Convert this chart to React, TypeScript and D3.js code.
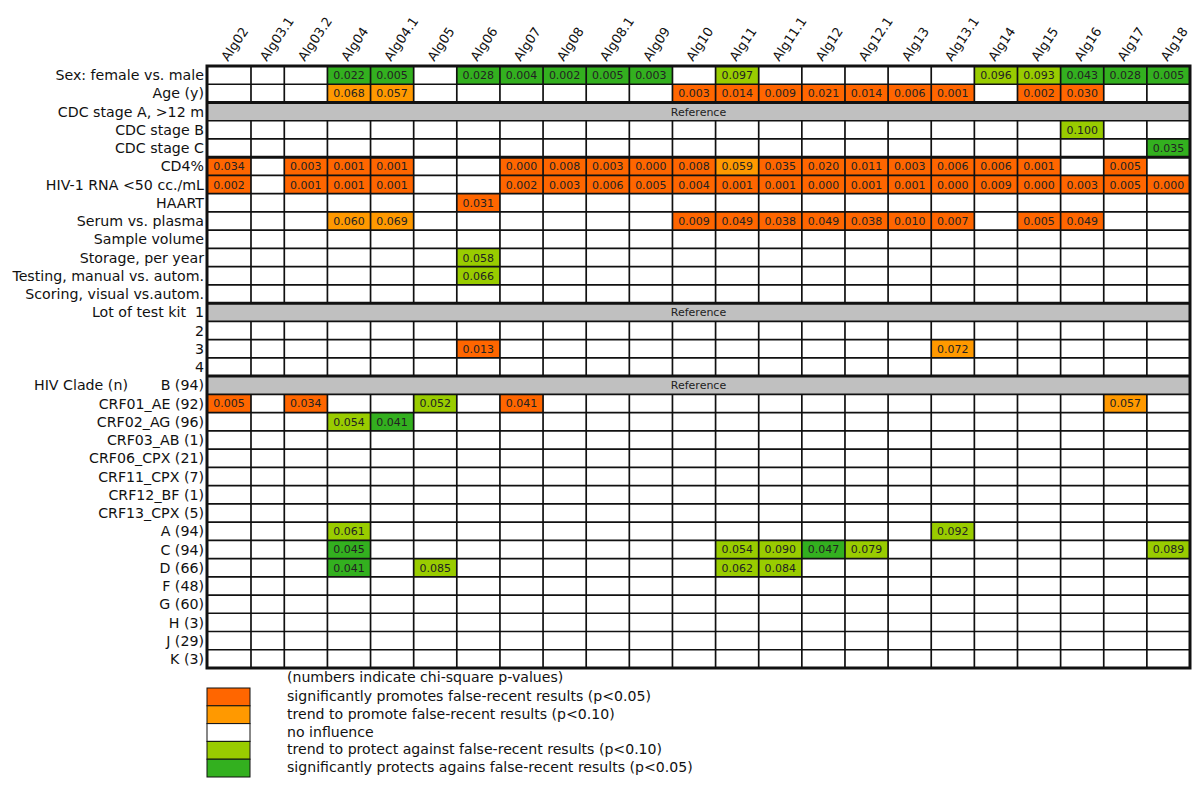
import React from "react";
import * as d3 from "d3";

// ---- data ----
const algorithms = ["Alg02","Alg03.1","Alg03.2","Alg04","Alg04.1","Alg05","Alg06","Alg07","Alg08","Alg08.1","Alg09","Alg10","Alg11","Alg11.1","Alg12","Alg12.1","Alg13","Alg13.1","Alg14","Alg15","Alg16","Alg17","Alg18"];

const rowLabels = ["Sex: female vs. male","Age (y)","CDC stage A, >12 m","CDC stage B","CDC stage C","CD4%","HIV-1 RNA <50 cc./mL","HAART","Serum vs. plasma","Sample volume","Storage, per year","Testing, manual vs. autom.","Scoring, visual vs.autom.","1","2","3","4","B (94)","CRF01_AE (92)","CRF02_AG (96)","CRF03_AB (1)","CRF06_CPX (21)","CRF11_CPX (7)","CRF12_BF (1)","CRF13_CPX (5)","A (94)","C (94)","D (66)","F (48)","G (60)","H (3)","J (29)","K (3)"];

const referenceRows = ["CDC stage A, >12 m","1","B (94)"];
const groupHeaders = [{ row: "1", text: "Lot of test kit" }, { row: "B (94)", text: "HIV Clade (n)" }];
const thickAbove = ["CDC stage A, >12 m","CD4%","1","B (94)"];

// p-values; negative sign = protects against false-recent, positive = promotes
const _ = null;
const none = [_,_,_,_,_,_,_,_,_,_,_,_,_,_,_,_,_,_,_,_,_,_,_];
const sex    = [_,_,_,-0.022,-0.005,_,-0.028,-0.004,-0.002,-0.005,-0.003,_,-0.097,_,_,_,_,_,-0.096,-0.093,-0.043,-0.028,-0.005];
const age    = [_,_,_,0.068,0.057,_,_,_,_,_,_,0.003,0.014,0.009,0.021,0.014,0.006,0.001,_,0.002,0.030,_,_];
const cdcB   = [_,_,_,_,_,_,_,_,_,_,_,_,_,_,_,_,_,_,_,_,-0.100,_,_];
const cdcC   = [_,_,_,_,_,_,_,_,_,_,_,_,_,_,_,_,_,_,_,_,_,_,-0.035];
const cd4    = [0.034,_,0.003,0.001,0.001,_,_,0.000,0.008,0.003,0.000,0.008,0.059,0.035,0.020,0.011,0.003,0.006,0.006,0.001,_,0.005,_];
const rna    = [0.002,_,0.001,0.001,0.001,_,_,0.002,0.003,0.006,0.005,0.004,0.001,0.001,0.000,0.001,0.001,0.000,0.009,0.000,0.003,0.005,0.000];
const haart  = [_,_,_,_,_,_,0.031,_,_,_,_,_,_,_,_,_,_,_,_,_,_,_,_];
const serum  = [_,_,_,0.060,0.069,_,_,_,_,_,_,0.009,0.049,0.038,0.049,0.038,0.010,0.007,_,0.005,0.049,_,_];
const storage= [_,_,_,_,_,_,-0.058,_,_,_,_,_,_,_,_,_,_,_,_,_,_,_,_];
const testing= [_,_,_,_,_,_,-0.066,_,_,_,_,_,_,_,_,_,_,_,_,_,_,_,_];
const lot3   = [_,_,_,_,_,_,0.013,_,_,_,_,_,_,_,_,_,_,0.072,_,_,_,_,_];
const crf01  = [0.005,_,0.034,_,_,-0.052,_,0.041,_,_,_,_,_,_,_,_,_,_,_,_,_,0.057,_];
const crf02  = [_,_,_,-0.054,-0.041,_,_,_,_,_,_,_,_,_,_,_,_,_,_,_,_,_,_];
const cladeA = [_,_,_,-0.061,_,_,_,_,_,_,_,_,_,_,_,_,_,-0.092,_,_,_,_,_];
const cladeC = [_,_,_,-0.045,_,_,_,_,_,_,_,_,-0.054,-0.090,-0.047,-0.079,_,_,_,_,_,_,-0.089];
const cladeD = [_,_,_,-0.041,_,-0.085,_,_,_,_,_,_,-0.062,-0.084,_,_,_,_,_,_,_,_,_];

const rowValues = [sex, age, none, cdcB, cdcC, cd4, rna, haart, serum, none, storage, testing, none,
  none, none, lot3, none, none, crf01, crf02, none, none, none, none, none, cladeA, cladeC, cladeD,
  none, none, none, none, none];

const legendItems = [
  { key: "sigPromote", label: "significantly promotes false-recent results (p<0.05)" },
  { key: "trendPromote", label: "trend to promote false-recent results (p<0.10)" },
  { key: "none", label: "no influence" },
  { key: "trendProtect", label: "trend to protect against false-recent results (p<0.10)" },
  { key: "sigProtect", label: "significantly protects agains false-recent results (p<0.05)" },
];
const legendNote = "(numbers indicate chi-square p-values)";

// ---- styles ----
const colors: Record<string, string> = {
  sigPromote: "#ff6600",
  trendPromote: "#ff9900",
  none: "#ffffff",
  trendProtect: "#99cc00",
  sigProtect: "#33b01f",
};
const FONT = "'DejaVu Sans', Verdana, sans-serif";

function category(v: number | null): string {
  if (v === null || v === undefined) return "none";
  if (v < 0) return Math.abs(v) < 0.05 ? "sigProtect" : "trendProtect";
  return v < 0.05 ? "sigPromote" : "trendPromote";
}

export default function App() {
  const W = 1200, H = 787;
  const left = 207, right = 1190, top = 66, bottom = 668;

  // column widths: first two columns differ in the original
  const weights = algorithms.map((_, i) => (i === 0 ? 1.02 : i === 1 ? 0.772 : 1));
  const cum = [0, ...Array.from(d3.cumsum(weights))];
  const xs = d3.scaleLinear().domain([0, cum[cum.length - 1]]).range([left, right]);
  const colX = (i: number) => xs(cum[i]);
  const colW = (i: number) => xs(cum[i + 1]) - xs(cum[i]);

  const y = d3.scaleBand<string>().domain(rowLabels).range([top, bottom]).padding(0);
  const rh = y.bandwidth();

  const cells: any[] = [];
  rowLabels.forEach((r, ri) => {
    if (referenceRows.includes(r)) return;
    rowValues[ri].forEach((v, ci) => {
      if (v === null) return;
      cells.push({ r, ci, v, cat: category(v) });
    });
  });

  const legendY = d3.scaleBand<string>().domain(legendItems.map(d => d.key)).range([688, 777]);

  return (
    <svg width={W} height={H} style={{ position: "absolute", left: 0, top: 0, background: "#fff" }} fontFamily={FONT}>
      <rect width={W} height={H} fill="#fff" />
      {/* column headers */}
      {algorithms.map((a, i) => (
        <text key={a} transform={`translate(${colX(i) + colW(i) / 2 - 1},62) rotate(-56)`} fontSize={13} fill="#111">{a}</text>
      ))}
      {/* row labels */}
      {rowLabels.map(r => (
        <text key={r} x={204} y={(y(r) as number) + rh / 2} dy="0.36em" textAnchor="end" fontSize={14.2} fill="#111">{r}</text>
      ))}
      {groupHeaders.map(g => (
        <text key={g.text} x={g.row === "1" ? 186 : 34} y={(y(g.row) as number) + rh / 2} dy="0.36em"
          textAnchor={g.row === "1" ? "end" : "start"} fontSize={14.2} fill="#111">{g.text}</text>
      ))}
      {/* reference rows */}
      {referenceRows.map(r => (
        <g key={r}>
          <rect x={left} y={y(r)} width={right - left} height={rh} fill="#c0c0c0" />
          <text x={(left + right) / 2} y={(y(r) as number) + rh / 2} dy="0.36em" textAnchor="middle" fontSize={11} fill="#222">Reference</text>
        </g>
      ))}
      {/* coloured cells */}
      {cells.map(c => (
        <rect key={c.r + c.ci} x={colX(c.ci)} y={y(c.r)} width={colW(c.ci)} height={rh} fill={colors[c.cat]} />
      ))}
      {/* grid: horizontal */}
      {rowLabels.slice(1).map(r => (
        <line key={"h" + r} x1={left} x2={right} y1={y(r)} y2={y(r)} stroke="#111"
          strokeWidth={thickAbove.includes(r) ? 3 : 1.7} />
      ))}
      {/* grid: vertical, skipping reference rows */}
      {algorithms.slice(1).map((a, i) => rowLabels.filter(r => !referenceRows.includes(r)).map(r => (
        <line key={"v" + a + r} x1={colX(i + 1)} x2={colX(i + 1)} y1={y(r)} y2={(y(r) as number) + rh} stroke="#111" strokeWidth={1.7} />
      )))}
      {/* values */}
      {cells.map(c => (
        <text key={"t" + c.r + c.ci} x={colX(c.ci) + colW(c.ci) / 2} y={(y(c.r) as number) + rh / 2} dy="0.36em"
          textAnchor="middle" fontSize={11} fill="#222">{d3.format(".3f")(Math.abs(c.v))}</text>
      ))}
      {/* outer border */}
      <rect x={left} y={top} width={right - left} height={bottom - top} fill="none" stroke="#111" strokeWidth={3} />
      {/* legend */}
      <text x={287} y={677} dy="0.36em" fontSize={14.1} fill="#111">{legendNote}</text>
      {legendItems.map((d, i) => (
        <g key={d.key}>
          <rect x={207} y={legendY(d.key)} width={43} height={legendY.bandwidth()} fill={colors[d.key]} stroke="#111" strokeWidth={1} />
          <text x={287} y={(legendY(d.key) as number) + legendY.bandwidth() / 2 - 1} dy="0.36em" fontSize={14.1} fill="#111">{d.label}</text>
        </g>
      ))}
    </svg>
  );
}
